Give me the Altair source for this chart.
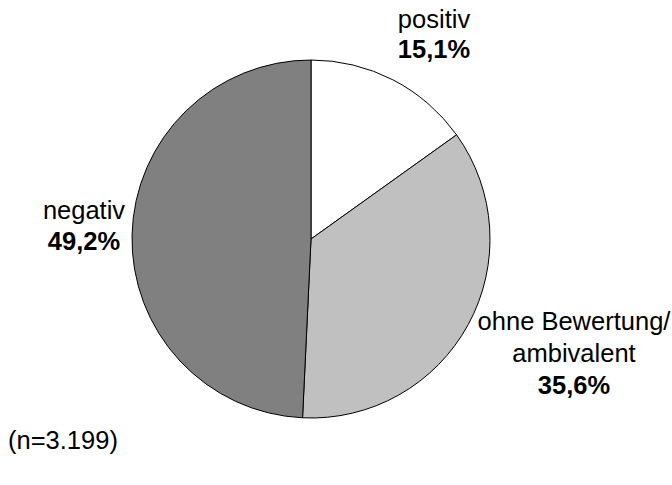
import altair as alt
import pandas as pd

# Shares of coverage by evaluation (percent)
categories = ["positiv", "ohne Bewertung/ambivalent", "negativ"]
shares = [15.1, 35.6, 49.2]
fills = ["#ffffff", "#c0c0c0", "#808080"]
sample_note = "(n=3.199)"


def pct(v):
    return f"{v:.1f}%".replace(".", ",")


df = pd.DataFrame({"kategorie": categories, "anteil": shares, "rang": [0, 1, 2]})

FONT = "Liberation Sans"
SIZE = 25.5
CX, CY, R = 311, 239, 179

pie = alt.Chart(df).mark_arc(
    radius=R, stroke="#000000", strokeWidth=1
).encode(
    theta=alt.Theta("anteil:Q", stack=True),
    order=alt.Order("rang:O"),
    color=alt.Color("kategorie:N",
                    scale=alt.Scale(domain=categories, range=fills),
                    legend=None),
    x=alt.value(CX),
    y=alt.value(CY),
)


def label(lines, x, y, bold_last=True, align="center", step=31):
    layers = []
    for i, line in enumerate(lines):
        bold = bold_last and i == len(lines) - 1
        layers.append(
            alt.Chart(pd.DataFrame({"t": [line]})).mark_text(
                font=FONT, fontSize=SIZE, align=align, baseline="alphabetic",
                fontWeight="bold" if bold else "normal", color="#000000"
            ).encode(text="t:N", x=alt.value(x), y=alt.value(y + i * step))
        )
    return layers


texts = []
texts += label(["positiv", pct(shares[0])], 434, 28, step=30)
texts += label(["negativ", pct(shares[2])], 84, 219)
texts += label(["ohne Bewertung/", "ambivalent", pct(shares[1])], 574, 330, step=32)
texts += label([sample_note], 8, 449, bold_last=False, align="left")

chart = alt.layer(pie, *texts).properties(
    width=672, height=485,
    autosize=alt.AutoSizeParams(type="none"),
    padding=0,
).configure_view(stroke=None)

chart.save("out.html", embed_options={"renderer": "svg", "actions": False})
